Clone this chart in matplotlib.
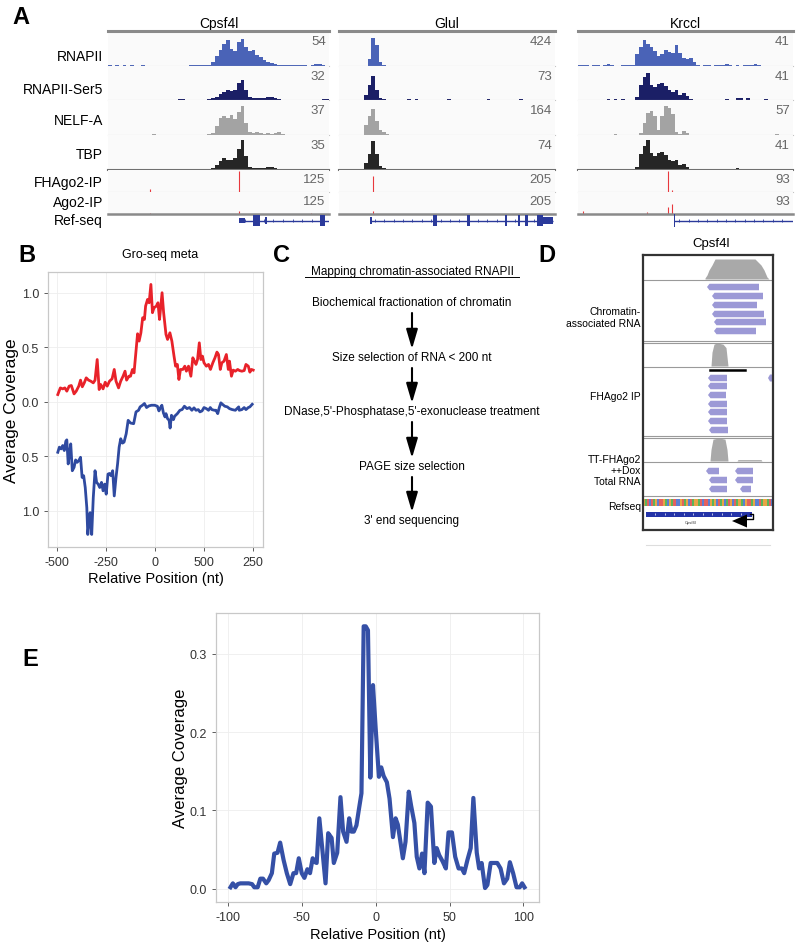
import numpy as np
import matplotlib
matplotlib.use("Agg")
import matplotlib.pyplot as plt
from matplotlib.patches import Rectangle, Polygon

plt.rcParams["font.family"] = ["Liberation Sans", "DejaVu Sans"]

W, H = 800, 945

# ---------------- panel A data (coverage per bin, fraction of track height) ----
GENES = ["Cpsf4l", "Glul", "Krccl"]
TRACK_NAMES = ["RNAPII", "RNAPII-Ser5", "NELF-A", "TBP", "FHAgo2-IP", "Ago2-IP", "Ref-seq"]
SCALE_CPSF4L = [54, 32, 37, 35, 125, 125]
SCALE_GLUL = [424, 73, 164, 74, 205, 205]
SCALE_KRCCL = [41, 41, 57, 41, 93, 93]

CPSF4L_POL2 = [0.02, 0.01, 0.02, 0, 0.02, 0.01, 0.03, 0, 0.01, 0.02,
               0, 0.01, 0, 0, 0.01, 0, 0, 0, 0, 0,
               0, 0, 0.02, 0.03, 0.04, 0.03, 0.02, 0.03, 0.12, 0.3,
               0.45, 0.62, 0.75, 0.5, 0.42, 0.68, 0.78, 0.55, 0.42, 0.45,
               0.32, 0.26, 0.18, 0.12, 0.1, 0.06, 0.04, 0.03, 0.02, 0.02,
               0.03, 0.02, 0.02, 0.02, 0.01, 0.02, 0.06, 0.07, 0.03, 0.01]
CPSF4L_SER5 = [0, 0, 0, 0, 0, 0, 0, 0, 0, 0,
               0, 0, 0, 0, 0, 0, 0, 0, 0, 0.03,
               0.03, 0, 0, 0, 0, 0, 0, 0.03, 0.05, 0.1,
               0.18, 0.25, 0.3, 0.26, 0.3, 0.5, 0.6, 0.3, 0.08, 0.06,
               0.05, 0.07, 0.05, 0.09, 0.1, 0.06, 0.02, 0, 0, 0,
               0, 0, 0, 0, 0, 0, 0, 0, 0.02, 0.02]
CPSF4L_NELF = [0, 0, 0, 0, 0, 0, 0, 0, 0, 0,
               0, 0, 0.02, 0, 0, 0, 0, 0, 0, 0,
               0, 0, 0, 0, 0, 0, 0, 0.02, 0.05, 0.25,
               0.5, 0.55, 0.5, 0.58, 0.45, 0.65, 0.82, 0.35, 0.1, 0.06,
               0.1, 0.07, 0.04, 0.05, 0.04, 0.05, 0.1, 0.02, 0, 0,
               0, 0, 0, 0, 0, 0, 0, 0, 0, 0]
CPSF4L_TBP = [0, 0, 0, 0, 0, 0, 0, 0, 0, 0,
              0, 0, 0, 0, 0, 0, 0, 0, 0, 0,
              0, 0.03, 0, 0, 0, 0.02, 0, 0.02, 0.05, 0.15,
              0.25, 0.33, 0.3, 0.28, 0.35, 0.6, 0.85, 0.4, 0.1, 0.06,
              0.07, 0.06, 0.05, 0.08, 0.09, 0.05, 0.02, 0, 0, 0,
              0, 0, 0, 0, 0, 0, 0, 0, 0, 0.02]

GLUL_POL2 = [0, 0, 0, 0, 0, 0, 0, 0, 0.2, 0.8,
             0.6, 0.12, 0.03, 0, 0, 0, 0, 0, 0, 0,
             0, 0, 0, 0, 0, 0, 0, 0, 0, 0,
             0, 0, 0, 0, 0, 0, 0, 0, 0, 0,
             0, 0, 0, 0, 0, 0, 0, 0, 0, 0,
             0, 0, 0, 0, 0, 0, 0, 0, 0, 0]
GLUL_SER5 = [0, 0, 0, 0, 0, 0, 0, 0.15, 0.45, 0.72,
             0.3, 0.06, 0.03, 0, 0, 0, 0, 0, 0, 0.03,
             0, 0.03, 0, 0, 0, 0, 0, 0, 0, 0,
             0.03, 0, 0, 0, 0, 0, 0, 0, 0, 0,
             0, 0.03, 0, 0, 0, 0, 0, 0, 0, 0,
             0.03, 0, 0, 0, 0, 0, 0, 0, 0, 0]
GLUL_NELF = [0, 0, 0, 0, 0, 0, 0, 0.3, 0.55, 0.75,
             0.4, 0.15, 0.08, 0.04, 0, 0, 0, 0, 0, 0,
             0, 0, 0, 0, 0, 0, 0, 0, 0, 0,
             0, 0, 0, 0, 0, 0, 0, 0, 0, 0,
             0, 0, 0, 0, 0, 0, 0, 0, 0, 0,
             0, 0, 0, 0, 0, 0, 0, 0, 0, 0]
GLUL_TBP = [0, 0, 0, 0, 0, 0, 0, 0.2, 0.45, 0.82,
            0.45, 0.12, 0.05, 0.03, 0, 0, 0, 0, 0, 0.02,
            0, 0.02, 0, 0, 0, 0, 0, 0, 0, 0,
            0.02, 0, 0, 0, 0, 0, 0, 0, 0, 0,
            0, 0.02, 0, 0, 0, 0, 0, 0, 0, 0,
            0.02, 0, 0, 0, 0, 0, 0, 0, 0, 0]

KRCCL_POL2 = [0.02, 0.03, 0.02, 0.01, 0.02, 0.03, 0.01, 0.03, 0.05, 0.02,
              0, 0.01, 0.04, 0.04, 0.02, 0.03, 0.35, 0.55, 0.75, 0.62,
              0.55, 0.42, 0.3, 0.35, 0.45, 0.4, 0.38, 0.6, 0.38, 0.22,
              0.2, 0.22, 0.12, 0.02, 0.01, 0.02, 0.02, 0.01, 0.02, 0.02,
              0.03, 0.06, 0.02, 0.01, 0.02, 0.01, 0.02, 0.02, 0.03, 0.06,
              0.03, 0.01, 0.01, 0.01, 0, 0.01, 0, 0.01, 0, 0]
KRCCL_SER5 = [0, 0, 0, 0, 0, 0, 0, 0, 0.03, 0,
              0.04, 0, 0.03, 0, 0, 0, 0.1, 0.45, 0.68, 0.8,
              0.45, 0.38, 0.48, 0.5, 0.42, 0.3, 0.25, 0.3, 0.15, 0.2,
              0.12, 0.02, 0, 0, 0, 0, 0, 0, 0, 0,
              0, 0.04, 0, 0, 0.05, 0.05, 0, 0.05, 0, 0,
              0, 0, 0.02, 0, 0, 0, 0, 0, 0, 0]
KRCCL_NELF = [0, 0, 0, 0, 0, 0, 0, 0, 0, 0,
              0.03, 0, 0, 0, 0, 0, 0, 0.05, 0.35, 0.62,
              0.7, 0.55, 0.15, 0.55, 0.82, 0.78, 0.6, 0.1, 0.02, 0.12,
              0.05, 0, 0, 0, 0, 0, 0, 0, 0, 0,
              0, 0, 0, 0, 0, 0, 0, 0, 0, 0,
              0, 0, 0, 0, 0, 0.02, 0, 0, 0, 0]
KRCCL_TBP = [0, 0, 0, 0, 0, 0, 0, 0, 0.02, 0,
             0.03, 0, 0, 0, 0, 0, 0.1, 0.45, 0.7, 0.85,
             0.5, 0.4, 0.48, 0.52, 0.42, 0.3, 0.25, 0.3, 0.15, 0.18,
             0.1, 0.02, 0, 0, 0, 0, 0, 0, 0, 0,
             0, 0, 0, 0, 0.05, 0, 0.04, 0.04, 0, 0,
             0, 0, 0, 0, 0, 0, 0, 0, 0, 0]

# spike tracks: (bin position, height)
CPSF4L_FH = [(11.3, 0.15), (35.7, 0.95)]
CPSF4L_AGO = [(11.3, 0.04), (35.7, 0.12), (55.2, 0.06)]
GLUL_FH = [(9.5, 0.75)]
GLUL_AGO = [(9.5, 0.12)]
KRCCL_FH = [(25.2, 0.95), (26.2, 0.1)]
KRCCL_AGO = [(1.4, 0.12), (19.2, 0.08), (25.2, 0.3), (26.2, 0.45)]

# gene models: intron line, exons (start, end, height)
CPSF4L_LINE = (35.6, 60)
CPSF4L_EXONS = [(35.6, 37.2, 0.45), (39.4, 41.2, 0.9), (42.5, 43.3, 0.6), (57.6, 58.9, 0.9)]
GLUL_LINE = (8.5, 59.5)
GLUL_EXONS = [(8.6, 9.2, 0.6), (26.1, 27.2, 0.9), (35.6, 36.4, 0.9), (46.1, 46.7, 0.9),
              (49.7, 50.3, 0.9), (51.7, 52.5, 0.9), (55.0, 56.7, 0.9), (56.7, 59.4, 0.5)]
KRCCL_LINE = (26.8, 60)
KRCCL_EXONS = [(26.7, 27.1, 1.0)]

# ---------------- panel B data ----------------
B_RED_X = [-496, -483, -471, -460, -450, -438, -427, -413, -402, -389, -380, -371, -361, -351,
           -339, -328, -315, -306, -295, -285, -277, -265, -254, -244, -232, -219, -208, -199,
           -186, -175, -163, -153, -145, -133, -125, -115, -107, -97, -89, -81, -72, -63, -54,
           -48, -38, -30, -21, -13, -5, 7, 15, 23, 28, 36, 44, 56, 64, 76, 86, 97, 105, 114,
           122, 130, 142, 152, 160, 171, 183, 193, 201, 209, 217, 226, 234, 242, 250, 262, 273,
           283, 295, 306, 316, 324, 333, 341, 352, 364, 374, 380, 390, 399, 410, 422, 431, 443,
           455, 464, 476, 484, 492, 501]
B_RED_Y = [0.067, 0.128, 0.119, 0.128, 0.098, 0.144, 0.150, 0.073, 0.098, 0.144, 0.199, 0.138,
           0.174, 0.220, 0.199, 0.190, 0.174, 0.199, 0.388, 0.113, 0.159, 0.119, 0.180, 0.144,
           0.190, 0.211, 0.297, 0.190, 0.128, 0.190, 0.235, 0.281, 0.199, 0.235, 0.235, 0.297,
           0.266, 0.465, 0.624, 0.557, 0.633, 0.771, 0.755, 0.878, 0.939, 0.908, 1.076, 0.817,
           0.862, 0.878, 0.908, 0.755, 0.847, 1.000, 0.817, 0.618, 0.572, 0.633, 0.557, 0.419,
           0.327, 0.343, 0.205, 0.297, 0.297, 0.327, 0.281, 0.327, 0.235, 0.404, 0.373, 0.343,
           0.388, 0.541, 0.388, 0.419, 0.358, 0.327, 0.343, 0.297, 0.358, 0.404, 0.456, 0.434,
           0.297, 0.358, 0.373, 0.434, 0.297, 0.373, 0.235, 0.291, 0.281, 0.297, 0.287, 0.281,
           0.287, 0.343, 0.327, 0.272, 0.297, 0.291]
B_BLUE_X = [-496, -488, -479, -471, -463, -455, -450, -443, -436, -430, -422, -413, -405, -397,
            -389, -380, -372, -364, -356, -348, -343, -336, -331, -323, -315, -306, -298, -290,
            -282, -273, -265, -257, -249, -240, -232, -224, -216, -208, -199, -191, -183, -175,
            -166, -158, -147, -137, -125, -109, -97, -84, -76, -64, -54, -43, -31, -18, -2, 12,
            20, 28, 35, 43, 51, 56, 64, 72, 77, 84, 94, 100, 114, 127, 138, 150, 163, 176, 188,
            199, 209, 221, 229, 240, 250, 262, 273, 282, 290, 303, 311, 320, 328, 336, 344, 356,
            369, 380, 394, 410, 418, 427, 430, 443, 455, 464, 476, 484, 496]
B_BLUE_Y = [-0.462, -0.415, -0.431, -0.400, -0.446, -0.360, -0.348, -0.569, -0.462, -0.385,
            -0.631, -0.600, -0.532, -0.554, -0.538, -0.508, -0.692, -0.677, -0.785, -0.969,
            -1.215, -1.092, -1.015, -1.215, -0.877, -0.631, -0.738, -0.754, -0.785, -0.738,
            -0.815, -0.754, -0.846, -0.662, -0.656, -0.677, -0.631, -0.862, -0.692, -0.569,
            -0.415, -0.338, -0.378, -0.369, -0.292, -0.169, -0.194, -0.200, -0.092, -0.077,
            -0.046, -0.031, -0.015, -0.052, -0.037, -0.031, -0.031, -0.040, -0.083, -0.052,
            -0.031, -0.102, -0.138, -0.108, -0.154, -0.169, -0.240, -0.123, -0.163, -0.132,
            -0.108, -0.077, -0.071, -0.040, -0.062, -0.052, -0.077, -0.055, -0.077, -0.071,
            -0.092, -0.083, -0.052, -0.062, -0.077, -0.052, -0.071, -0.077, -0.077, -0.108,
            -0.052, -0.009, -0.022, -0.040, -0.046, -0.062, -0.071, -0.077, -0.062, -0.046,
            -0.077, -0.071, -0.052, -0.071, -0.052, -0.046, -0.022]
B_XTICKS = [-500, -250, 0, 250, 500]
B_XTICKLABELS = ["-500", "-250", "0", "500", "250"]
B_YTICKS = [-1.0, -0.5, 0.0, 0.5, 1.0]
B_YTICKLABELS = ["1.0", "0.5", "0.0", "0.5", "1.0"]

# ---------------- panel C text ----------------
C_TITLE = "Mapping chromatin-associated RNAPII"
C_STEPS = ["Biochemical fractionation of chromatin",
           "Size selection of RNA < 200 nt",
           "DNase,5'-Phosphatase,5'-exonuclease treatment",
           "PAGE size selection",
           "3' end sequencing"]

# ---------------- panel D data (box units: x 0-130, y 0-275 from top) --------
D_CHROM_READS = [(64, 116), (69, 120), (69, 114), (69, 121), (71, 123), (71, 113)]
D_FH_READS = [(65, 84), (65, 84), (65, 83), (65, 84), (65, 84), (65, 84), (66, 85)]
D_TOTAL_READS = [[(63, 76), (92, 110)], [(66, 84), (92, 110)], [(66, 84), (97, 108)]]
D_COV_CHROM_X = [62, 64, 66, 69, 72, 112, 115, 118, 121, 124, 126]
D_COV_CHROM_Y = [0.05, 0.2, 0.45, 0.7, 1.0, 1.0, 0.85, 0.7, 0.45, 0.1, 0.0]
D_COV_FH_X = [68, 69, 71, 74, 80, 83, 84, 85]
D_COV_FH_Y = [0.0, 0.6, 0.95, 1.0, 0.95, 0.8, 0.4, 0.0]
D_COV_TOT_X = [67, 68, 70, 76, 82, 84, 85, 94, 95, 118, 119]
D_COV_TOT_Y = [0.0, 0.5, 0.95, 1.0, 0.95, 0.5, 0.0, 0.0, 0.06, 0.06, 0.0]
D_SEQ = "GATCTAGCTTGACGATCCGTAGCTAGGATCTTCGAGCTAGCATGCTAGACGTTAGCCTAGGATC"
BASE_COLORS = {"A": "#5bb55b", "C": "#5b7fd4", "G": "#e9a446", "T": "#e4615e"}
D_LABELS = [("Chromatin-\nassociated RNA", 318), ("FHAgo2 IP", 397),
            ("TT-FHAgo2\n++Dox\nTotal RNA", 471), ("Refseq", 507)]

# ---------------- panel E data ----------------
E_X = [-98.2, -96.6, -94.8, -93.3, -91.5, -89.2, -85.9, -83.6, -82.1, -79.8, -78.0, -76.2,
       -74.0, -72.4, -70.2, -68.6, -66.4, -64.6, -62.3, -60.1, -57.8, -55.6, -53.8, -52.0,
       -50.0, -48.2, -46.2, -44.4, -42.6, -41.0, -39.9, -38.1, -35.9, -33.9, -32.1, -29.8,
       -28.3, -26.0, -23.8, -22.0, -19.7, -17.9, -16.4, -14.8, -13.0, -11.2, -9.6, -8.1,
       -6.7, -5.2, -3.6, -1.8, 0.0, 2.2, 3.8, 5.4, 7.6, 9.4, 11.7, 13.5, 15.0, 16.6, 18.4,
       20.2, 22.4, 24.0, 26.2, 27.8, 29.6, 31.4, 33.0, 35.2, 37.4, 39.7, 41.3, 43.0, 45.3,
       47.5, 49.3, 51.6, 53.8, 56.1, 58.3, 59.9, 62.1, 64.3, 66.1, 68.4, 70.0, 71.7, 74.0,
       75.6, 77.8, 80.7, 82.3, 84.5, 86.8, 89.0, 90.8, 93.0, 95.3, 97.5, 99.1, 100.7]
E_Y = [0.002, 0.007, 0.002, 0.006, 0.007, 0.007, 0.007, 0.006, 0.002, 0.002, 0.013, 0.013,
       0.007, 0.011, 0.020, 0.045, 0.046, 0.059, 0.037, 0.020, 0.006, 0.020, 0.020, 0.039,
       0.020, 0.014, 0.025, 0.020, 0.039, 0.034, 0.033, 0.090, 0.047, 0.007, 0.071, 0.065,
       0.033, 0.046, 0.117, 0.073, 0.060, 0.090, 0.073, 0.073, 0.081, 0.103, 0.122, 0.335,
       0.335, 0.330, 0.142, 0.260, 0.205, 0.143, 0.155, 0.144, 0.136, 0.115, 0.066, 0.090,
       0.082, 0.062, 0.039, 0.060, 0.124, 0.106, 0.084, 0.041, 0.026, 0.045, 0.020, 0.110,
       0.105, 0.033, 0.052, 0.043, 0.035, 0.026, 0.072, 0.072, 0.041, 0.026, 0.026, 0.020,
       0.037, 0.052, 0.116, 0.046, 0.026, 0.033, 0.001, 0.005, 0.033, 0.033, 0.033, 0.026,
       0.007, 0.013, 0.034, 0.020, 0.002, 0.002, 0.007, 0.002]


def px(x0, y0, x1, y1):
    """pixel box (top-left origin) -> figure fraction rect"""
    return [x0 / W, 1 - y1 / H, (x1 - x0) / W, (y1 - y0) / H]


def ggplot_axes(ax):
    ax.set_facecolor("white")
    for sp in ax.spines.values():
        sp.set_color("#c8c8c8")
        sp.set_linewidth(0.9)
    ax.grid(True, color="#eeeeee", lw=0.6)
    ax.set_axisbelow(True)
    ax.tick_params(colors="#444444", labelcolor="#333333", length=3, width=0.6)


fig = plt.figure(figsize=(W / 100, H / 100), dpi=100)
fig.patch.set_facecolor("white")

# full-figure overlay in pixel coordinates (for panel C and labels)
ov = fig.add_axes([0, 0, 1, 1], zorder=0)
ov.set_xlim(0, W)
ov.set_ylim(H, 0)
ov.axis("off")

for lab, (x, y) in zip("ABCDE", [(12, 17), (18, 255), (273, 255), (538, 255), (22, 660)]):
    ov.text(x, y, lab, fontsize=17, fontweight="bold", ha="left", va="center")

# ---------------- panel A ----------------
COL_X = [(108, 329), (339, 555), (578, 793)]
ROW_Y = [(32, 67), (67, 101), (101, 136), (136, 171), (171, 193), (193, 215), (215, 228)]
ROW_LABEL_Y = [57, 90, 121, 155, 183, 203, 221]
TRACK_COLORS = ["#4a63b7", "#1b1f66", "#a3a3a3", "#262626"]

coverage = {
    "Cpsf4l": [CPSF4L_POL2, CPSF4L_SER5, CPSF4L_NELF, CPSF4L_TBP],
    "Glul": [GLUL_POL2, GLUL_SER5, GLUL_NELF, GLUL_TBP],
    "Krccl": [KRCCL_POL2, KRCCL_SER5, KRCCL_NELF, KRCCL_TBP],
}
spikes = {"Cpsf4l": [CPSF4L_FH, CPSF4L_AGO], "Glul": [GLUL_FH, GLUL_AGO],
          "Krccl": [KRCCL_FH, KRCCL_AGO]}
scales = {"Cpsf4l": SCALE_CPSF4L, "Glul": SCALE_GLUL, "Krccl": SCALE_KRCCL}
models = {"Cpsf4l": (CPSF4L_LINE, CPSF4L_EXONS), "Glul": (GLUL_LINE, GLUL_EXONS),
          "Krccl": (KRCCL_LINE, KRCCL_EXONS)}

for lab, y in zip(TRACK_NAMES, ROW_LABEL_Y):
    ov.text(103, y, lab, fontsize=10, ha="right", va="center")

for gene, (x0, x1) in zip(GENES, COL_X):
    ov.text((x0 + x1) / 2, 24, gene, fontsize=10, ha="center", va="center")
    for i in range(6):
        y0, y1 = ROW_Y[i]
        ax = fig.add_axes(px(x0, y0, x1, y1))
        ax.set_facecolor("#fafafa")
        ax.set_xlim(0, 60)
        ax.set_ylim(0, 1)
        ax.set_xticks([])
        ax.set_yticks([])
        for s in ["left", "right", "top"]:
            ax.spines[s].set_visible(False)
        ax.spines["bottom"].set_color("#c4c4c4")
        ax.spines["bottom"].set_linewidth(0.8)
        if i < 4:
            vals = coverage[gene][i]
            ax.bar(np.arange(len(vals)), vals, width=1.0, align="edge",
                   color=TRACK_COLORS[i], linewidth=0)
        else:
            sp = spikes[gene][i - 4]
            ax.vlines([p for p, h in sp], 0, [h for p, h in sp], color="#e8383d", lw=0.8)
        if i == 0:
            ax.spines["top"].set_visible(True)
            ax.spines["top"].set_color("#8a8a8a")
            ax.spines["top"].set_linewidth(2.2)
        if i == 3:
            ax.spines["bottom"].set_color("#707070")
            ax.spines["bottom"].set_linewidth(1.5)
        if i == 5:
            ax.spines["bottom"].set_color("#8a8a8a")
            ax.spines["bottom"].set_linewidth(1.8)
        ax.text(0.985, 0.88, str(scales[gene][i]), transform=ax.transAxes,
                ha="right", va="top", fontsize=9.5, color="#666666")
    # ref-seq gene model
    y0, y1 = ROW_Y[6]
    ax = fig.add_axes(px(x0, y0, x1, y1))
    ax.set_xlim(0, 60)
    ax.set_ylim(-1, 1)
    ax.axis("off")
    (ls, le), exons = models[gene]
    ax.hlines(0, ls, le, color="#2b3a9b", lw=1.0)
    ticks = np.arange(ls + 1.5, le - 0.5, 2.6)
    ax.vlines(ticks, -0.3, 0.3, color="#2b3a9b", lw=0.6)
    for es, ee, eh in exons:
        ax.add_patch(Rectangle((es, -eh), ee - es, 2 * eh, color="#2b3a9b", lw=0))

# ---------------- panel B ----------------
ov.text(160, 255, "Gro-seq meta", fontsize=9, ha="center", va="center")
axB = fig.add_axes(px(48, 273, 263, 548))
ggplot_axes(axB)
axB.plot(B_RED_X, B_RED_Y, color="#e8222a", lw=2)
axB.plot(B_BLUE_X, B_BLUE_Y, color="#2f4aa0", lw=2)
axB.set_xlim(-546, 551)
axB.set_ylim(-1.33, 1.19)
axB.set_xticks(B_XTICKS)
axB.set_xticklabels(B_XTICKLABELS, fontsize=9)
axB.set_yticks(B_YTICKS)
axB.set_yticklabels(B_YTICKLABELS, fontsize=9)
axB.set_xlabel("Relative Position (nt)", fontsize=10.5, labelpad=2)
axB.set_ylabel("Average Coverage", fontsize=12.5, labelpad=2)

# ---------------- panel C ----------------
cx = 412
ov.text(cx, 272, C_TITLE, fontsize=8.5, ha="center", va="center")
ov.plot([cx - 107, cx + 107], [278, 278], color="black", lw=0.7)
step_y = [303, 358, 412, 467, 521]
for txt, y in zip(C_STEPS, step_y):
    ov.text(cx, y, txt, fontsize=8.5, ha="center", va="center")
for ya, yb in zip(step_y[:-1], step_y[1:]):
    ov.annotate("", xy=(cx, yb - 8), xytext=(cx, ya + 11),
                arrowprops=dict(arrowstyle="-|>,head_length=0.85,head_width=0.25",
                                color="black", lw=1.5, mutation_scale=14,
                                shrinkA=0, shrinkB=0))

# ---------------- panel D ----------------
ov.text(711, 244, "Cpsf4l", fontsize=9.5, ha="center", va="center")
for txt, y in D_LABELS:
    ov.text(641, y, txt, fontsize=7.5, ha="right", va="center", linespacing=1.15)
ov.plot([646, 770], [546, 546], color="#dddddd", lw=0.8)

axD = fig.add_axes(px(643, 256, 773, 531))
axD.set_xlim(0, 130)
axD.set_ylim(275, 0)
axD.set_xticks([])
axD.set_yticks([])
for sp in axD.spines.values():
    sp.set_color("#333333")
    sp.set_linewidth(1.6)

read_c = "#9c99d6"


def draw_read(ax, xs, xe, yc, h=6.5):
    tip = 2.5
    ax.add_patch(Polygon([(xs, yc), (xs + tip, yc - h / 2), (xe, yc - h / 2),
                          (xe, yc + h / 2), (xs + tip, yc + h / 2)],
                         closed=True, color=read_c, lw=0))


def draw_cov(ax, xs, ys, base, height):
    ax.fill_between(xs, base, [base - v * height for v in ys], color="#a9a9a9", lw=0)


draw_cov(axD, D_COV_CHROM_X, D_COV_CHROM_Y, 24, 20)
for (xs, xe), yc in zip(D_CHROM_READS, [32, 41, 50, 59, 67, 76]):
    draw_read(axD, xs, xe, yc)
draw_cov(axD, D_COV_FH_X, D_COV_FH_Y, 111, 23)
for (xs, xe), yc in zip(D_FH_READS, [123, 131, 140, 149, 157, 166, 175]):
    draw_read(axD, xs, xe, yc)
axD.add_patch(Polygon([(125, 123), (127, 119.5), (130, 119.5), (130, 126.5), (127, 126.5)],
                      closed=True, color=read_c, lw=0))
draw_cov(axD, D_COV_TOT_X, D_COV_TOT_Y, 206, 23)
for row, yc in zip(D_TOTAL_READS, [216, 225, 234]):
    for xs, xe in row:
        draw_read(axD, xs, xe, yc)

for y in [25, 86, 88, 112, 181, 183, 207, 241]:
    axD.axhline(y, color="#9a9a9a", lw=0.8)
axD.plot([67, 102], [115, 115], color="black", lw=1.8)

bw = 130 / len(D_SEQ)
for k, b in enumerate(D_SEQ):
    axD.add_patch(Rectangle((k * bw, 244), bw, 7, color=BASE_COLORS[b], lw=0))
axD.add_patch(Rectangle((3, 257), 106, 4.5, color="#2433a8", lw=0))
axD.vlines(np.arange(12, 105, 9.5), 258.3, 260.2, color="white", lw=0.5)
axD.add_patch(Polygon([(89, 266), (104, 259.5), (104, 272.5)], closed=True, color="black", lw=0))
axD.plot([104, 110, 110, 107], [264, 264, 259, 259], color="black", lw=1)
axD.text(48, 267, "Cpsf4l", fontsize=3, ha="center", va="center", color="#333333")

# ---------------- panel E ----------------
axE = fig.add_axes(px(216, 614, 539, 903))
ggplot_axes(axE)
axE.plot(E_X, E_Y, color="#3550a6", lw=3, solid_joinstyle="round")
axE.set_xlim(-108, 110.5)
axE.set_ylim(-0.0168, 0.352)
axE.set_xticks([-100, -50, 0, 50, 100])
axE.set_xticklabels(["-100", "-50", "0", "50", "100"], fontsize=9)
axE.set_yticks([0.0, 0.1, 0.2, 0.3])
axE.set_yticklabels(["0.0", "0.1", "0.2", "0.3"], fontsize=9)
axE.set_xlabel("Relative Position (nt)", fontsize=10.5, labelpad=3)
axE.set_ylabel("Average Coverage", fontsize=12, labelpad=1)

fig.savefig("out.png", dpi=100, facecolor="white")
